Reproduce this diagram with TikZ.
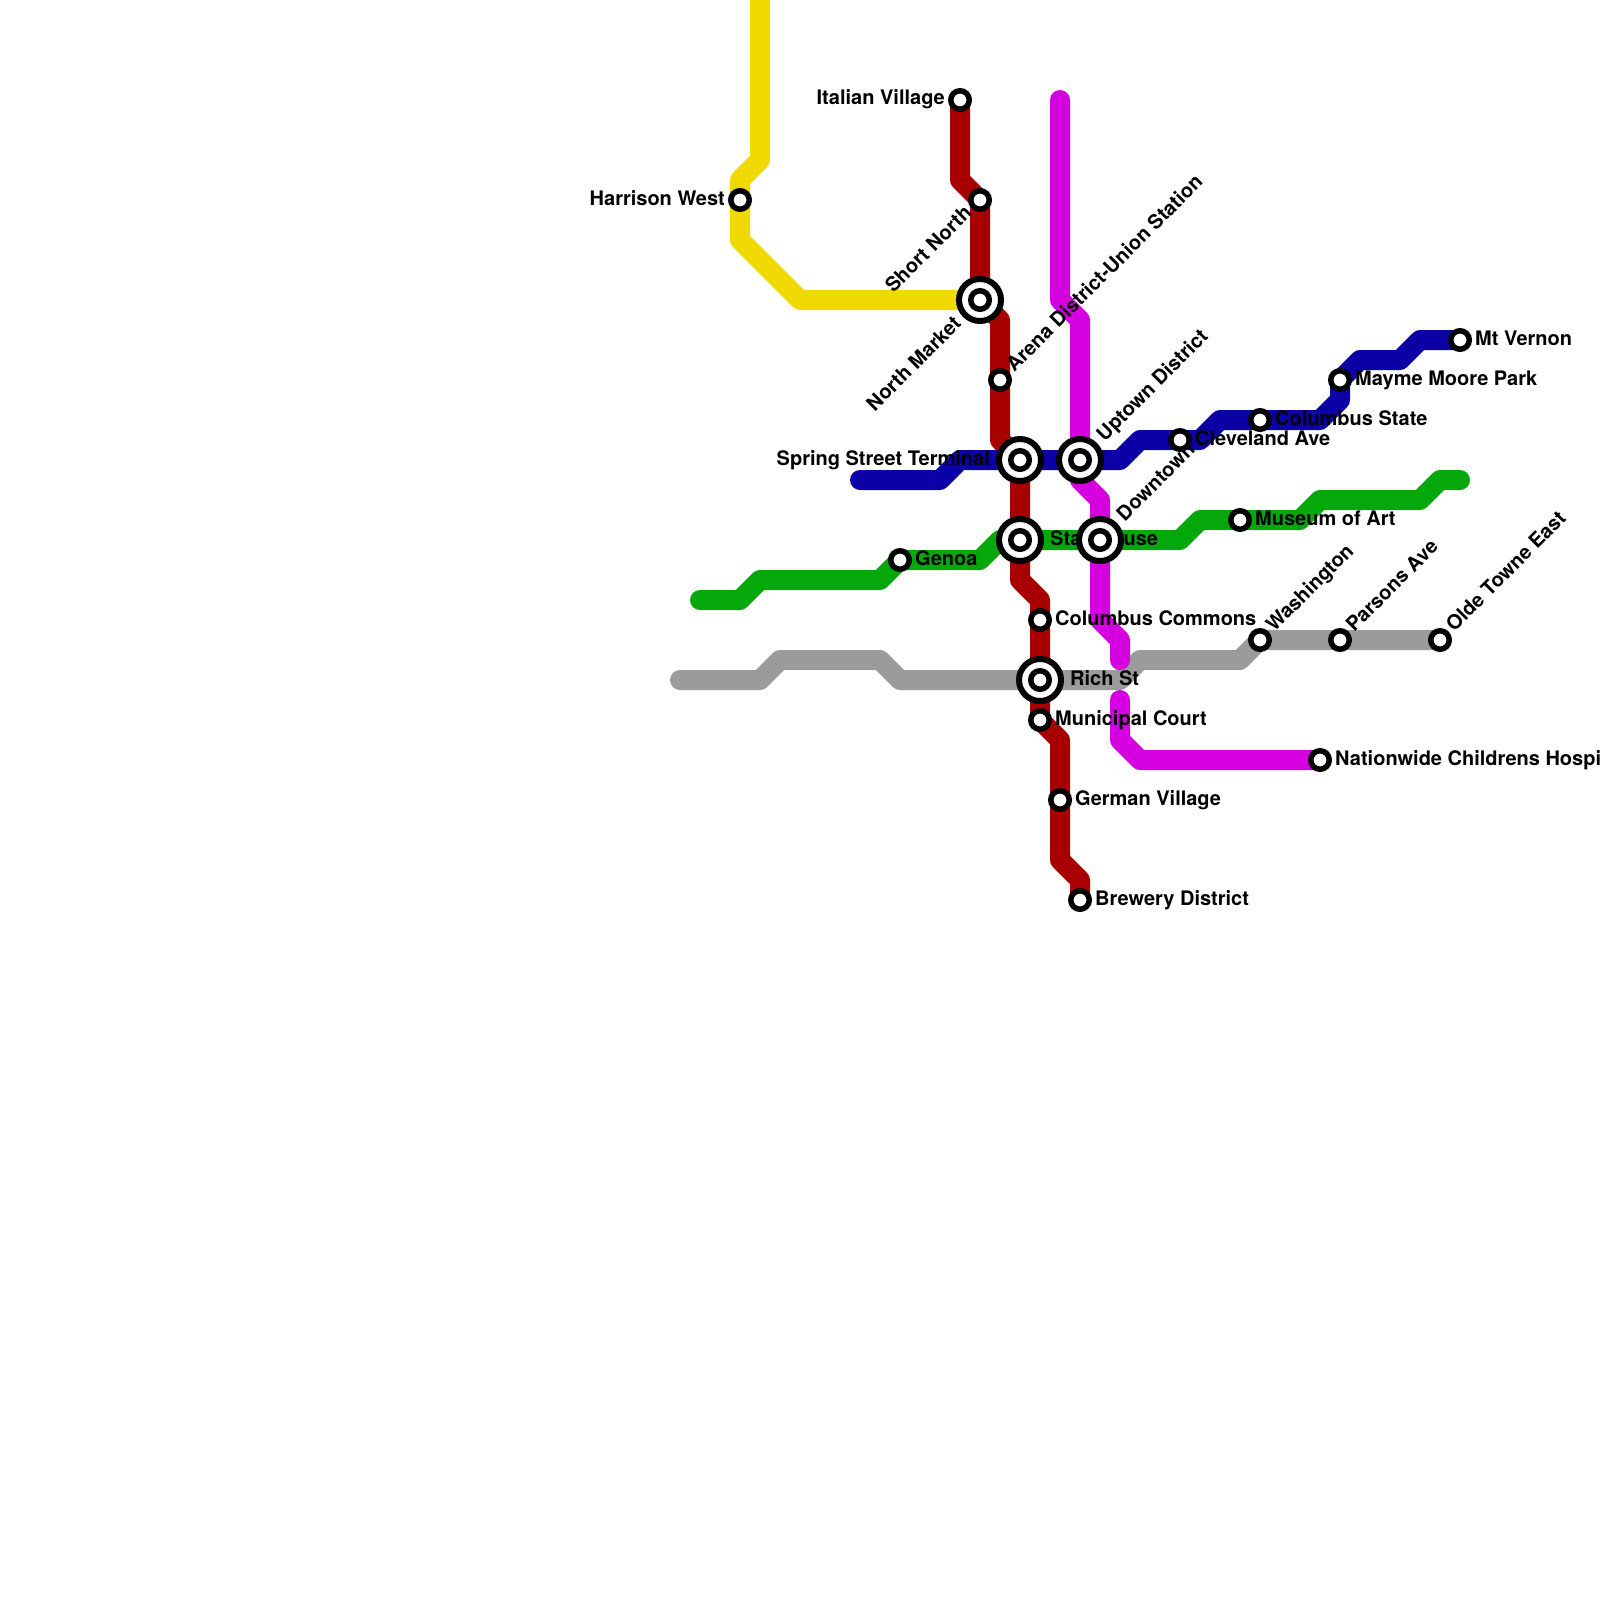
\documentclass[tikz,border=0pt]{standalone}
\usepackage{fontspec}
\setmainfont{TeX Gyre Heros}
\usetikzlibrary{backgrounds}
\definecolor{lineyellow}{RGB}{240,217,0}
\definecolor{linered}{RGB}{168,0,0}
\definecolor{lineblue}{RGB}{10,0,165}
\definecolor{linegreen}{RGB}{5,168,10}
\definecolor{linegray}{RGB}{155,155,155}
\definecolor{linemagenta}{RGB}{212,0,224}

\begin{document}
\begin{tikzpicture}[
  x=1pt, y=-1pt,
  font=\fontsize{20pt}{24pt}\selectfont\bfseries,
  route/.style={line width=20pt, line cap=round, line join=round},
  stn/.style={circle, draw=black, line width=5.5pt, fill=white, inner sep=0pt, outer sep=0pt, minimum size=18.5pt},
  hub/.style={stn, line width=6pt, minimum size=42pt},
  rlbl/.style={inner sep=0pt, anchor=base west, xshift=15pt, yshift=-5pt},
  llbl/.style={inner sep=0pt, anchor=base east, xshift=-15pt, yshift=-5pt},
  nelbl/.style={inner sep=0pt, rotate=45, anchor=base west, xshift=15pt, yshift=-5pt},
  swlbl/.style={inner sep=0pt, rotate=45, anchor=base east, xshift=-15pt, yshift=-5pt}
]
  \useasboundingbox (0,0) rectangle (1600,1600);

  % stations
  \node[stn] (italian)    at (960,100) {};
  \node[stn] (harrison)   at (740,200) {};
  \node[stn] (shortnorth) at (980,200) {};
  \node[hub] (northmkt)   at (980,300) {};
  \node[stn] (northmkti)  at (980,300) {};
  \node[stn] (arena)      at (1000,380) {};
  \node[hub] (spring)     at (1020,460) {};
  \node[stn] (springi)    at (1020,460) {};
  \node[hub] (uptown)     at (1080,460) {};
  \node[stn] (uptowni)    at (1080,460) {};
  \node[hub] (statehouse) at (1020,540) {};
  \node[stn] (statehousei) at (1020,540) {};
  \node[hub] (downtown)   at (1100,540) {};
  \node[stn] (downtowni)  at (1100,540) {};
  \node[stn] (genoa)      at (900,560) {};
  \node[stn] (commons)    at (1040,620) {};
  \node[hub] (rich)       at (1040,680) {};
  \node[stn] (richi)      at (1040,680) {};
  \node[stn] (court)      at (1040,720) {};
  \node[stn] (german)     at (1060,800) {};
  \node[stn] (brewery)    at (1080,900) {};
  \node[stn] (childrens)  at (1320,760) {};
  \node[stn] (cleveland)  at (1180,440) {};
  \node[stn] (cstate)     at (1260,420) {};
  \node[stn] (mayme)      at (1340,380) {};
  \node[stn] (vernon)     at (1460,340) {};
  \node[stn] (museum)     at (1240,520) {};
  \node[stn] (washington) at (1260,640) {};
  \node[stn] (parsons)    at (1340,640) {};
  \node[stn] (olde)       at (1440,640) {};

  \coordinate (yellowtop)  at (760,-20);
  \coordinate (bluewest)   at (860,480);
  \coordinate (greenwest)  at (700,600);
  \coordinate (greeneast)  at (1460,480);
  \coordinate (graywest)   at (680,680);
  \coordinate (magtop)     at (1060,100);
  \coordinate (maggap)     at (1120,700);

  \begin{pgfonlayer}{background}
    \draw[route, lineyellow] (yellowtop) -- ++(0,180) -- ++(-20,20) -- (harrison.center)
      -- ++(0,40) -- ++(60,60) -- (northmkt.center);
    \draw[route, linered] (italian.center) -- ++(0,80) -- (shortnorth.center) -- (northmkt.center)
      -- ++(20,20) -- (arena.center) -- ++(0,60) -- (spring.center) -- (statehouse.center)
      -- ++(0,40) -- ++(20,20) -- (commons.center) -- (rich.center) -- (court.center) -- ++(20,20)
      -- (german.center) -- ++(0,60) -- ++(20,20) -- (brewery.center);
    \draw[route, lineblue] (bluewest) -- ++(80,0) -- ++(20,-20) -- (spring.center) -- (uptown.center)
      -- ++(40,0) -- ++(20,-20) -- (cleveland.center) -- ++(20,0) -- ++(20,-20) -- (cstate.center)
      -- ++(60,0) -- ++(20,-20) -- (mayme.center) -- ++(20,-20) -- ++(40,0) -- ++(20,-20) -- (vernon.center);
    \draw[route, linegreen] (greenwest) -- ++(40,0) -- ++(20,-20) -- ++(120,0) -- (genoa.center)
      -- ++(80,0) -- ++(20,-20) -- (statehouse.center) -- (downtown.center) -- ++(80,0) -- ++(20,-20)
      -- (museum.center) -- ++(60,0) -- ++(20,-20) -- ++(100,0) -- ++(20,-20) -- (greeneast);
    \draw[route, linegray] (graywest) -- ++(80,0) -- ++(20,-20) -- ++(100,0) -- ++(20,20)
      -- (rich.center) -- ++(80,0) -- ++(20,-20) -- ++(100,0) -- (washington.center)
      -- (parsons.center) -- (olde.center);
    \draw[route, linemagenta] (magtop) -- ++(0,200) -- ++(20,20) -- (uptown.center) -- ++(0,20)
      -- ++(20,20) -- (downtown.center) -- ++(0,80) -- ++(20,20) -- ++(0,20);
    \draw[route, linemagenta] (maggap) -- ++(0,40) -- ++(20,20) -- (childrens.center);

    % labels
    \node[llbl] (italianl) at (italian) {Italian Village};
    \node[llbl] (harrisonl) at (harrison) {Harrison West};
    \node[swlbl] (shortnorthl) at (shortnorth) {Short North};
    \node[swlbl, xshift=-15pt] (northmktl) at (northmkt) {North Market};
    \node[nelbl] (arenal) at (arena) {Arena District-Union Station};
    \node[llbl, xshift=-15pt] (springl) at (spring) {Spring Street Terminal};
    \node[nelbl, xshift=15pt] (uptownl) at (uptown) {Uptown District};
    \node[rlbl, xshift=15pt] (statehousel) at (statehouse) {Statehouse};
    \node[nelbl, xshift=15pt] (downtownl) at (downtown) {Downtown};
    \node[rlbl] (genoal) at (genoa) {Genoa};
    \node[rlbl] (commonsl) at (commons) {Columbus Commons};
    \node[rlbl, xshift=15pt] (richl) at (rich) {Rich St};
    \node[rlbl] (courtl) at (court) {Municipal Court};
    \node[rlbl] (germanl) at (german) {German Village};
    \node[rlbl] (breweryl) at (brewery) {Brewery District};
    \node[rlbl] (childrensl) at (childrens) {Nationwide Childrens Hospi};
    \node[rlbl] (clevelandl) at (cleveland) {Cleveland Ave};
    \node[rlbl] (cstatel) at (cstate) {Columbus State};
    \node[rlbl] (maymel) at (mayme) {Mayme Moore Park};
    \node[rlbl] (vernonl) at (vernon) {Mt Vernon};
    \node[rlbl] (museuml) at (museum) {Museum of Art};
    \node[nelbl] (washingtonl) at (washington) {Washington};
    \node[nelbl] (parsonsl) at (parsons) {Parsons Ave};
    \node[nelbl] (oldel) at (olde) {Olde Towne East};
  \end{pgfonlayer}
\end{tikzpicture}
\end{document}
